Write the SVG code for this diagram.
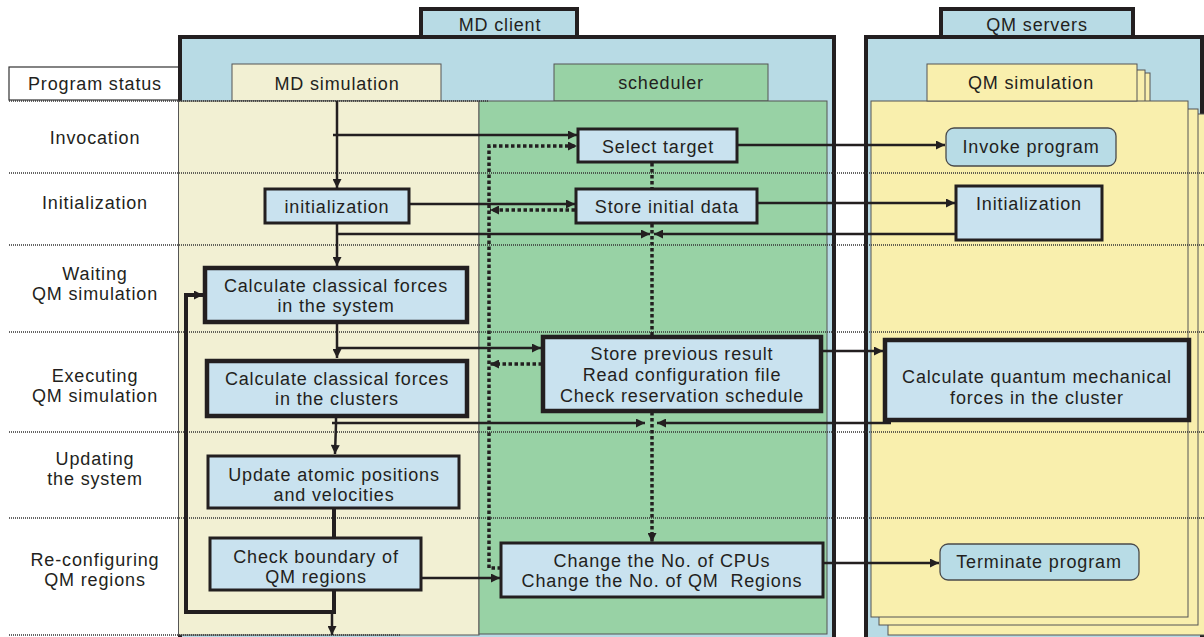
<svg xmlns="http://www.w3.org/2000/svg" width="1204" height="637" viewBox="0 0 1204 637">
<defs>
<style>
.t{font-family:"Liberation Sans",Arial,sans-serif;font-size:18px;letter-spacing:0.85px;fill:#231f20;text-anchor:middle}
.node{fill:#c9e2ef;stroke:#231f20;stroke-width:3}
.nthick{fill:#c9e2ef;stroke:#231f20;stroke-width:4.5}
.rnd{fill:#b8dce6;stroke:#4a4a4a;stroke-width:1.3}
.sep{stroke:#333;stroke-width:1.3;stroke-dasharray:1 1;fill:none}
.flow{stroke:#231f20;stroke-width:2.5;fill:none}
.bold{stroke:#231f20;stroke-width:4;fill:none}
.dot{stroke:#231f20;stroke-width:3.5;stroke-dasharray:3.5 2.5;fill:none}
.lane{stroke:#555;stroke-width:1}
.blue{fill:#b8dbe5}
.cream{fill:#f2f0d3}
.green{fill:#98d2a5}
.yel{fill:#f9efad}
.outer{stroke:#231f20;stroke-width:4}
</style>
<marker id="ah" viewBox="0 0 10 10" refX="10" refY="5" markerWidth="10" markerHeight="9" markerUnits="userSpaceOnUse" orient="auto"><path d="M0,0 L10,5 L0,10 z" fill="#231f20"/></marker>
</defs>

<!-- background frames -->
<g id="frames">
<rect x="9" y="67" width="170" height="33" fill="#fff" stroke="#333" stroke-width="1.2"/>
<text class="t" x="95" y="90">Program status</text>

<rect class="blue outer" x="421" y="9" width="156" height="29"/>
<text class="t" x="500" y="31">MD client</text>
<rect class="blue outer" x="180" y="37" width="654" height="610"/>

<rect class="cream lane" x="232" y="64" width="209" height="37"/>
<text class="t" x="337" y="90">MD simulation</text>
<rect class="cream lane" x="178.5" y="101" width="300.5" height="534"/>

<rect class="green lane" x="554" y="64" width="214" height="37"/>
<text class="t" x="661" y="89">scheduler</text>
<rect class="green lane" x="479" y="101" width="348" height="533"/>

<rect class="blue outer" x="941" y="9" width="192" height="29"/>
<text class="t" x="1037" y="31">QM servers</text>
<rect class="blue outer" x="866" y="37" width="336" height="610"/>

<rect class="yel lane" x="888" y="114" width="330" height="521"/>
<rect class="yel lane" x="879" y="109" width="319" height="516"/>
<rect class="yel lane" x="935" y="73" width="215" height="36"/>
<rect class="yel lane" x="935" y="70" width="210" height="36"/>
<rect class="yel lane" x="871" y="101" width="317" height="516"/>
<rect class="yel lane" x="927" y="64" width="210" height="37"/>
<text class="t" x="1031" y="89">QM simulation</text>
</g>

<g id="separators">
<line class="sep" x1="9" y1="101" x2="489" y2="101"/>
<line class="sep" x1="9" y1="173" x2="1204" y2="173"/>
<line class="sep" x1="9" y1="245" x2="1204" y2="245"/>
<line class="sep" x1="9" y1="332" x2="1204" y2="332"/>
<line class="sep" x1="9" y1="432" x2="1204" y2="432"/>
<line class="sep" x1="9" y1="518" x2="1204" y2="518"/>
<line class="sep" x1="9" y1="635" x2="400" y2="635"/>
</g>

<g id="status-labels">
<text class="t" x="95" y="144">Invocation</text>
<text class="t" x="95" y="209">Initialization</text>
<text class="t" x="95" y="280">Waiting</text>
<text class="t" x="95" y="300">QM simulation</text>
<text class="t" x="95" y="382">Executing</text>
<text class="t" x="95" y="402">QM simulation</text>
<text class="t" x="95" y="465">Updating</text>
<text class="t" x="95" y="485">the system</text>
<text class="t" x="95" y="566">Re-configuring</text>
<text class="t" x="95" y="586">QM regions</text>
</g>

<g id="connectors">
<path class="flow" d="M337,101 V188" marker-end="url(#ah)"/>
<path class="flow" d="M333,135 H577" marker-end="url(#ah)"/>
<path class="flow" d="M410,204 H575" marker-end="url(#ah)"/>
<path class="dot" d="M575,210 H490" marker-end="url(#ah)"/>
<path class="flow" d="M337,224 V266" marker-end="url(#ah)"/>
<path class="flow" d="M337,234 H650" marker-end="url(#ah)"/>
<path class="flow" d="M958,234 H654" marker-end="url(#ah)"/>
<path class="dot" d="M652,163 V189"/>
<path class="dot" d="M652,224 V337"/>
<path class="dot" d="M652,412 V542" marker-end="url(#ah)"/>
<path class="flow" d="M738,145 H945" marker-end="url(#ah)"/>
<path class="flow" d="M758,203 H955" marker-end="url(#ah)"/>
<path class="dot" d="M501,568 H489 V146 H577" marker-end="url(#ah)"/>
<path class="flow" d="M337,323 V358" marker-end="url(#ah)"/>
<path class="flow" d="M337,348 H541" marker-end="url(#ah)"/>
<path class="dot" d="M542,364 H490" marker-end="url(#ah)"/>
<path class="flow" d="M822,351 H883" marker-end="url(#ah)"/>
<path class="flow" d="M336,418 V424 L335,454" marker-end="url(#ah)"/>
<path class="flow" d="M332,423 H645" marker-end="url(#ah)"/>
<path class="flow" d="M891,423 H657" marker-end="url(#ah)"/>
<path class="bold" d="M334,509 V537"/>
<path class="flow" d="M422,578 H500" marker-end="url(#ah)"/>
<path class="flow" d="M824,563 H939" marker-end="url(#ah)"/>
<path class="bold" d="M334,591 V612 H186 V295 H203" marker-end="url(#ah)"/>
<path class="flow" d="M332,612 V635" marker-end="url(#ah)"/>
</g>

<g id="n-init-md">
<rect class="node" x="265" y="189" width="144" height="34"/>
<text class="t" x="337" y="213">initialization</text>
</g>
<g id="n-calc-system">
<rect class="nthick" x="205" y="268" width="262" height="54"/>
<text class="t" x="336" y="292">Calculate classical forces</text>
<text class="t" x="336" y="312">in the system</text>
</g>
<g id="n-calc-clusters">
<rect class="nthick" x="207" y="361" width="260" height="55"/>
<text class="t" x="337" y="385">Calculate classical forces</text>
<text class="t" x="337" y="405">in the clusters</text>
</g>
<g id="n-update">
<rect class="node" x="208" y="456" width="251" height="52"/>
<text class="t" x="334" y="481">Update atomic positions</text>
<text class="t" x="334" y="501">and velocities</text>
</g>
<g id="n-check">
<rect class="node" x="210" y="538" width="211" height="52"/>
<text class="t" x="316" y="563">Check boundary of</text>
<text class="t" x="316" y="583">QM regions</text>
</g>
<g id="n-select">
<rect class="node" x="578" y="129" width="159" height="33"/>
<text class="t" x="658" y="153">Select target</text>
</g>
<g id="n-store-init">
<rect class="node" x="576" y="189" width="181" height="34"/>
<text class="t" x="667" y="213">Store initial data</text>
</g>
<g id="n-store-prev">
<rect class="nthick" x="543" y="337" width="278" height="74"/>
<text class="t" x="682" y="360">Store previous result</text>
<text class="t" x="682" y="381">Read configuration file</text>
<text class="t" x="682" y="402">Check reservation schedule</text>
</g>
<g id="n-change">
<rect class="node" x="501" y="543" width="322" height="54"/>
<text class="t" x="662" y="567">Change the No. of CPUs</text>
<text class="t" x="662" y="587" style="white-space:pre">Change the No. of QM  Regions</text>
</g>
<g id="n-invoke">
<rect class="rnd" x="946" y="128" width="170" height="38" rx="8"/>
<text class="t" x="1031" y="153">Invoke program</text>
</g>
<g id="n-init-qm">
<rect class="node" x="956" y="186" width="146" height="54"/>
<text class="t" x="1029" y="210">Initialization</text>
</g>
<g id="n-calc-qm">
<rect class="nthick" x="885" y="340" width="304" height="80"/>
<text class="t" x="1037" y="383">Calculate quantum mechanical</text>
<text class="t" x="1037" y="404">forces in the cluster</text>
</g>
<g id="n-terminate">
<rect class="rnd" x="940" y="544" width="199" height="36" rx="8"/>
<text class="t" x="1039" y="568">Terminate program</text>
</g>
</svg>
